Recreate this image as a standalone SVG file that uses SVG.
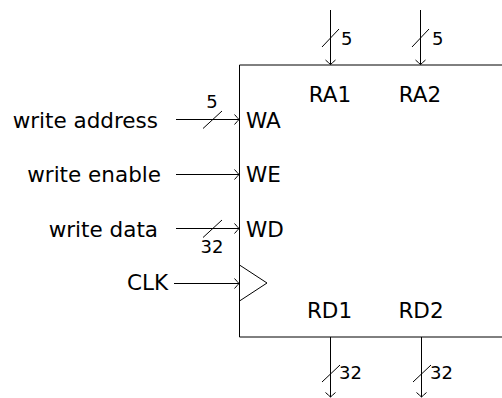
<svg xmlns="http://www.w3.org/2000/svg" width="502" height="398" viewBox="0 0 502 398">
<style>
.t{font-family:"DejaVu Sans","Liberation Sans",sans-serif;font-size:21.5px;fill:#000}
.s{font-family:"DejaVu Sans","Liberation Sans",sans-serif;font-size:18px;fill:#000}
.w{stroke:#000;stroke-width:1;fill:none}
</style>
<defs>
<marker id="arr" viewBox="-6 -6 7 12" markerWidth="7" markerHeight="12" refX="0" refY="0" orient="auto" markerUnits="userSpaceOnUse">
<path d="M -4.5 -5 Q -1.2 -1.3 0 0 Q -1.2 1.3 -4.5 5" fill="none" stroke="#000" stroke-width="1"/>
</marker>
</defs>
<g id="regfile">
<path class="w" d="M 510 65 H 239.5 V 337 H 510"/>
<path class="w" d="M 239.5 265 L 267 283 L 239.5 301"/>
<text class="t" x="246" y="128">WA</text>
<text class="t" x="246" y="182">WE</text>
<text class="t" x="246" y="237">WD</text>
<text class="t" x="330" y="102" text-anchor="middle">RA1</text>
<text class="t" x="420" y="102" text-anchor="middle">RA2</text>
<text class="t" x="329.5" y="318" text-anchor="middle">RD1</text>
<text class="t" x="421" y="318" text-anchor="middle">RD2</text>
</g>
<g id="in-wa"><text class="t" x="158" y="128" text-anchor="end">write address</text></g>
<g id="in-we"><text class="t" x="161" y="182" text-anchor="end">write enable</text></g>
<g id="in-wd"><text class="t" x="158" y="237" text-anchor="end">write data</text></g>
<g id="in-clk"><text class="t" x="168" y="290" text-anchor="end">CLK</text></g>
<g id="connectors">
<line class="w" x1="176" y1="119.5" x2="239" y2="119.5" marker-end="url(#arr)"/>
<line class="w" x1="176" y1="174.5" x2="239" y2="174.5" marker-end="url(#arr)"/>
<line class="w" x1="176" y1="228.5" x2="239" y2="228.5" marker-end="url(#arr)"/>
<line class="w" x1="174" y1="283.5" x2="239" y2="283.5" marker-end="url(#arr)"/>
<line class="w" x1="330.5" y1="10" x2="330.5" y2="64.5" marker-end="url(#arr)"/>
<line class="w" x1="420.5" y1="10" x2="420.5" y2="64.5" marker-end="url(#arr)"/>
<line class="w" x1="330.5" y1="337" x2="330.5" y2="397" marker-end="url(#arr)"/>
<line class="w" x1="421.5" y1="337" x2="421.5" y2="397" marker-end="url(#arr)"/>
<line class="w" x1="203" y1="128.5" x2="222" y2="111"/>
<line class="w" x1="203" y1="237.5" x2="222" y2="220"/>
<line class="w" x1="322" y1="47" x2="339" y2="29"/>
<line class="w" x1="412" y1="47" x2="429" y2="29"/>
<line class="w" x1="322" y1="382" x2="340" y2="365"/>
<line class="w" x1="413" y1="382" x2="431" y2="365"/>
<text class="s" x="212" y="108" text-anchor="middle">5</text>
<text class="s" x="212" y="253" text-anchor="middle">32</text>
<text class="s" x="341" y="45">5</text>
<text class="s" x="432" y="45">5</text>
<text class="s" x="339" y="379">32</text>
<text class="s" x="430" y="379">32</text>
</g>
</svg>
